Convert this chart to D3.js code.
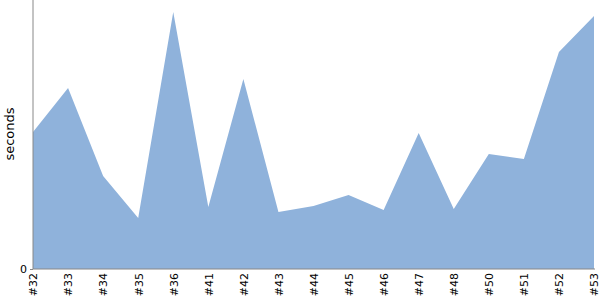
<!DOCTYPE html>
<html>
<head>
<meta charset="utf-8">
<script src="https://cdn.jsdelivr.net/npm/d3@7"></script>
<style>
  body { margin: 0; background: #fff; }
  text { font-family: "DejaVu Sans", sans-serif; }
</style>
</head>
<body>
<div id="chart"></div>
<script>
// builds, in the order shown on the x axis
var builds = ["#32","#33","#34","#35","#36","#41","#42","#43","#44","#45","#46","#47","#48","#50","#51","#52","#53"];
// duration per build (arbitrary units)
var seconds = [137, 181, 93, 51, 257, 62, 190, 57, 63, 74, 59, 136, 60, 115, 110, 217, 253];
var yTicks = [0];

var width = 600, height = 300;
var mLeft = 33, mRight = 594, mTop = 0, mBottom = 269;

var svg = d3.select("#chart").append("svg")
    .attr("width", width)
    .attr("height", height);

var x = d3.scalePoint()
    .domain(builds)
    .range([mLeft, mRight]);

var y = d3.scaleLinear()
    .domain([0, 269])
    .range([mBottom, mTop]);

var area = d3.area()
    .x(function(d, i) { return x(builds[i]); })
    .y0(mBottom)
    .y1(function(d) { return y(d); });

svg.append("path")
    .datum(seconds)
    .attr("fill", "#8fb2db")
    .attr("d", area);

// y axis
var yAxis = svg.append("g")
    .attr("transform", "translate(" + mLeft + ",0)")
    .call(d3.axisLeft(y).tickValues(yTicks).tickSize(3).tickPadding(3));
yAxis.select(".domain").attr("stroke", "#888").attr("d", "M0," + mTop + "V" + mBottom);
yAxis.selectAll(".tick line").attr("stroke", "#888");
yAxis.selectAll(".tick text").attr("font-size", 11).attr("font-family", "DejaVu Sans").attr("fill", "#000");

// x axis
var xAxis = svg.append("g")
    .attr("transform", "translate(0," + mBottom + ")")
    .call(d3.axisBottom(x).tickSize(0).tickPadding(0));
xAxis.select(".domain").attr("stroke", "#888").attr("d", "M" + mLeft + ",0H" + (mRight + 1));
xAxis.selectAll(".tick text")
    .attr("font-size", 11)
    .attr("font-family", "DejaVu Sans")
    .attr("fill", "#000")
    .attr("transform", "rotate(-90)")
    .attr("text-anchor", "end")
    .attr("x", -4)
    .attr("y", 0)
    .attr("dy", "0.35em");

svg.append("text")
    .attr("transform", "translate(14," + 134 + ") rotate(-90)")
    .attr("text-anchor", "middle")
    .attr("font-size", 13)
    .text("seconds");
</script>
</body>
</html>
